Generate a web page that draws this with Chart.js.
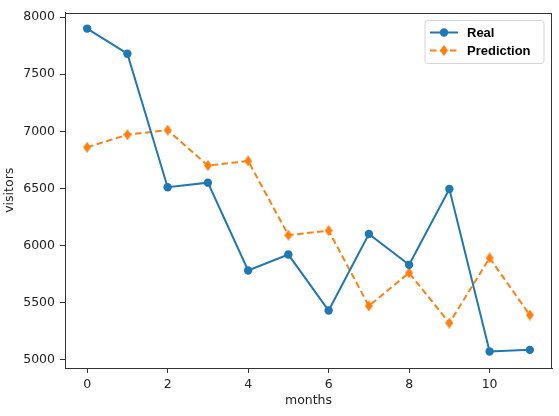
<!DOCTYPE html>
<html>
<head>
<meta charset="utf-8">
<script src="https://cdn.jsdelivr.net/npm/chart.js@4"></script>
<style>
html,body{margin:0;padding:0;background:#fff;}
#wrap{width:559px;height:416px;}
</style>
</head>
<body>
<div id="wrap"><canvas id="c" width="559" height="416"></canvas></div>
<script>
const months = [0,1,2,3,4,5,6,7,8,9,10,11];
const realVisitors = [7900,7680,6510,6550,5780,5920,5430,6100,5830,6495,5070,5085];
const predictedVisitors = [6860,6970,7010,6700,6740,6090,6130,5470,5760,5320,5890,5390];
const xTickValues = [0,2,4,6,8,10];
const yTickValues = [5000,5500,6000,6500,7000,7500,8000];
const seriesNames = ['Real','Prediction'];
const xTitle = 'months';
const yTitle = 'visitors';

const BLUE = '#1f77b4', ORANGE = '#ff7f0e';
const FONT = 'DejaVu Sans';

function thinDiamond(w, h, color){
  const c = document.createElement('canvas');
  c.width = w; c.height = h;
  const g = c.getContext('2d');
  g.fillStyle = color;
  g.beginPath();
  g.moveTo(w/2, 0); g.lineTo(w, h/2); g.lineTo(w/2, h); g.lineTo(0, h/2); g.closePath();
  g.fill();
  return c;
}
const diamond = thinDiamond(8, 11, ORANGE);

const frame = {
  id: 'frame',
  afterDatasetsDraw(chart){
    const a = chart.chartArea, g = chart.ctx;
    g.save();
    g.strokeStyle = '#333'; g.lineWidth = 1;
    g.strokeRect(Math.round(a.left)+0.5, Math.round(a.top)+0.5, Math.round(a.right-a.left)-1, Math.round(a.bottom-a.top)-1);
    g.restore();
  }
};

const legendBox = {
  id: 'legendBox',
  afterDraw(chart){
    const a = chart.chartArea, g = chart.ctx;
    const bw = 119, bh = 43;
    const x0 = a.right - 8 - bw, y0 = a.top + 8;
    g.save();
    g.fillStyle = 'rgba(255,255,255,0.8)';
    g.strokeStyle = '#d6d6d6'; g.lineWidth = 1;
    const r = 3;
    g.beginPath();
    g.moveTo(x0+r,y0); g.lineTo(x0+bw-r,y0); g.quadraticCurveTo(x0+bw,y0,x0+bw,y0+r);
    g.lineTo(x0+bw,y0+bh-r); g.quadraticCurveTo(x0+bw,y0+bh,x0+bw-r,y0+bh);
    g.lineTo(x0+r,y0+bh); g.quadraticCurveTo(x0,y0+bh,x0,y0+bh-r);
    g.lineTo(x0,y0+r); g.quadraticCurveTo(x0,y0,x0+r,y0); g.closePath();
    g.fill(); g.stroke();
    const ds = chart.data.datasets;
    const rows = [y0+12, y0+30];
    ds.forEach((d,i)=>{
      const yy = rows[i];
      g.strokeStyle = d.borderColor; g.lineWidth = 2;
      g.setLineDash(d.borderDash || []);
      g.beginPath(); g.moveTo(x0+5, yy); g.lineTo(x0+33, yy); g.stroke();
      g.setLineDash([]);
      if (i===0){
        g.fillStyle = BLUE; g.beginPath(); g.arc(x0+19, yy, 4.2, 0, Math.PI*2); g.fill();
      } else {
        g.drawImage(diamond, x0+19-4, yy-5.5);
      }
      g.fillStyle = '#000';
      g.font = 'bold 13px "Liberation Sans"';
      g.textBaseline = 'middle';
      g.fillText(d.label, x0+42, yy+1);
    });
    g.restore();
  }
};

new Chart(document.getElementById('c'), {
  type: 'line',
  data: {
    datasets: [
      {
        label: seriesNames[0],
        data: months.map((m,i)=>({x:m, y:realVisitors[i]})),
        borderColor: BLUE, backgroundColor: BLUE,
        borderWidth: 2, pointRadius: 4.2, pointHoverRadius: 4.2,
        pointBorderWidth: 0, pointStyle: 'circle', tension: 0, fill: false
      },
      {
        label: seriesNames[1],
        data: months.map((m,i)=>({x:m, y:predictedVisitors[i]})),
        borderColor: ORANGE, backgroundColor: ORANGE,
        borderWidth: 2, borderDash: [6.5, 3.5],
        pointStyle: diamond, pointRadius: 5, tension: 0, fill: false
      }
    ]
  },
  options: {
    responsive: false,
    animation: false,
    events: [],
    layout: { padding: { left: 0, top: 5, right: 7, bottom: 0 } },
    plugins: { legend: { display: false }, tooltip: { enabled: false } },
    scales: {
      x: {
        type: 'linear', min: -0.55, max: 11.55,
        afterBuildTicks: s => { s.ticks = xTickValues.map(v=>({value:v})); },
        afterFit: s => { s.height = 48; },
        grid: { drawOnChartArea: false, drawTicks: true, tickLength: 5, color: '#333' },
        border: { display: true, color: '#333' },
        ticks: { color: '#222', padding: 4, font: { family: FONT, size: 12.5 }, maxRotation: 0, callback: v => String(v) },
        title: { display: true, text: xTitle, color: '#222', font: { family: FONT, size: 12.5 }, padding: { top: 2, bottom: 8 } }
      },
      y: {
        type: 'linear', min: 4926, max: 8041,
        afterBuildTicks: s => { s.ticks = yTickValues.map(v=>({value:v})); },
        afterFit: s => { s.width = 65; },
        grid: { drawOnChartArea: false, drawTicks: true, tickLength: 5, color: '#333' },
        border: { display: true, color: '#333' },
        ticks: { color: '#222', padding: 5, font: { family: FONT, size: 12.5 }, callback: v => String(v) },
        title: { display: true, text: yTitle, color: '#222', font: { family: FONT, size: 12.5 }, padding: { top: 2, bottom: 2 } }
      }
    }
  },
  plugins: [frame, legendBox]
});
</script>
</body>
</html>
